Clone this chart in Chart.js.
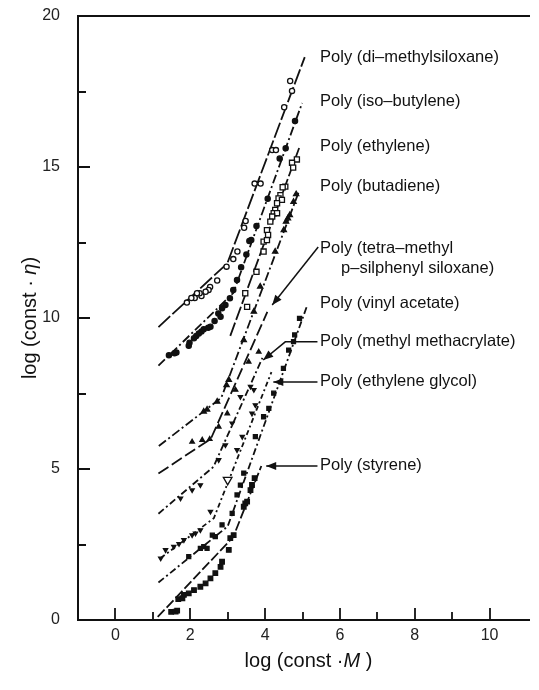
<!DOCTYPE html>
<html>
<head>
<meta charset="utf-8">
<script src="https://cdn.jsdelivr.net/npm/chart.js@4/dist/chart.umd.min.js"></script>
<style>
html, body { margin: 0; padding: 0; background: #fff; }
#wrap { width: 539px; height: 690px; }
</style>
</head>
<body>
<div id="wrap"><canvas id="myChart"></canvas></div>
<script>
var xTicks = [0, 2, 4, 6, 8, 10];
var yTicks = [0, 5, 10, 15, 20];

// fitted lines: [log M, log eta] vertices
var pdmsLine = [[1.15, 9.70], [2.99, 11.81], [5.06, 18.64]];
var pibLine = [[1.15, 8.42], [3.15, 10.83], [4.99, 17.12]];
var peLine = [[3.07, 9.41], [4.91, 15.63]];
var pbLine = [[1.16, 5.76], [2.83, 7.36], [4.92, 14.24]];
var ptmpsLine = [[1.15, 4.85], [2.55, 6.00], [4.06, 10.20]];
var pmmaLine = [[1.15, 3.52], [2.62, 5.07], [3.93, 8.68]];
var pegLine = [[1.21, 2.05], [2.63, 3.37], [4.17, 8.21]];
var pvacLine = [[1.15, 1.24], [3.00, 3.10], [5.13, 10.43]];
var psLine = [[1.13, 0.10], [3.15, 2.75], [3.90, 5.10]];

// measured points
var pdmsPts = [[4.67,17.85],[4.72,17.52],[4.51,16.98],[4.19,15.56],[4.29,15.56],[3.72,14.45],[3.88,14.45],
  [3.48,13.21],[3.44,12.99],[3.26,12.20],[3.15,11.95],[2.97,11.70],[2.72,11.24],[2.53,11.03],[2.49,10.93],
  [2.41,10.87],[2.30,10.73],[2.25,10.82],[2.18,10.82],[2.12,10.66],[2.03,10.66],[1.91,10.51]];
var pibPts = [[4.80,16.52],[4.55,15.62],[4.39,15.28],[4.07,13.95],[3.77,13.05],[3.63,12.58],[3.58,12.55],
  [3.50,12.10],[3.36,11.68],[3.25,11.26],[3.15,10.93],[3.06,10.65],[2.94,10.43],[2.85,10.32],[2.81,10.04],
  [2.75,10.15],[2.65,9.90],[2.54,9.71],[2.48,9.68],[2.36,9.63],[2.30,9.55],[2.23,9.49],[2.16,9.40],
  [2.10,9.33],[1.98,9.18],[1.96,9.08],[1.63,8.86],[1.58,8.83],[1.43,8.77]];
var pePts = [[4.85,15.25],[4.72,15.14],[4.75,14.98],[4.54,14.35],[4.47,14.33],[4.41,14.07],[4.36,13.96],
  [4.45,13.91],[4.32,13.80],[4.27,13.58],[4.23,13.47],[4.32,13.47],[4.19,13.36],[4.14,13.19],[4.05,12.91],
  [4.08,12.75],[3.96,12.53],[4.05,12.58],[3.96,12.20],[3.77,11.53],[3.47,10.82],[3.52,10.37]];
var pbPts = [[4.83,14.10],[4.76,13.85],[4.66,13.41],[4.61,13.30],[4.56,13.19],[4.50,12.91],[4.27,12.20],
  [3.87,11.04],[3.70,10.21],[3.43,9.27],[3.03,7.95],[2.97,7.78],[2.72,7.23],[2.45,6.97],[2.36,6.90]];
var ptmpsPts = [[2.05,5.90],[2.32,5.96],[2.52,5.99],[2.76,6.40],[2.99,6.84],[3.21,7.62],[3.56,8.55],[3.83,8.88]];
var pmmaPts = [[1.74,4.03],[2.05,4.30],[2.27,4.47],[2.76,5.30],[2.94,5.79],[3.12,6.51],[3.34,7.39],[3.61,7.73],[3.70,7.62]];
var pegPts = [[1.21,2.04],[1.34,2.32],[1.56,2.43],[1.70,2.52],[1.83,2.65],[2.05,2.81],[2.14,2.87],[2.27,2.98],
  [2.54,3.59],[3.25,5.63],[3.39,6.07],[3.65,6.84],[3.74,7.12]];
var pegOpenPts = [[3.00,4.64]];
var pvacPts = [[1.96,2.10],[2.27,2.37],[2.36,2.43],[2.45,2.37],[2.59,2.81],[2.67,2.76],[2.85,3.15],[3.12,3.53],
  [3.25,4.14],[3.34,4.47],[3.43,4.86],[3.74,6.07],[3.96,6.73],[4.10,7.01],[4.23,7.51],[4.49,8.33],[4.63,8.94],
  [4.76,9.22],[4.79,9.44],[4.92,9.99]];
var psPts = [[1.49,0.27],[1.61,0.28],[1.65,0.31],[1.68,0.69],[1.79,0.72],[1.83,0.83],[1.96,0.88],[2.10,0.99],
  [2.27,1.10],[2.41,1.21],[2.54,1.38],[2.67,1.55],[2.81,1.76],[2.85,1.93],[3.03,2.32],[3.07,2.71],[3.16,2.81],
  [3.43,3.75],[3.47,3.86],[3.52,3.92],[3.61,4.30],[3.65,4.47],[3.72,4.70]];

// labels on the right
var labelText = ["Poly (di\u2013methylsiloxane)", "Poly (iso\u2013butylene)", "Poly (ethylene)", "Poly (butadiene)",
  "Poly (tetra\u2013methyl", "p\u2013silphenyl siloxane)", "Poly (vinyl acetate)", "Poly (methyl methacrylate)",
  "Poly (ethylene glycol)", "Poly (styrene)"];
var labelX = [5.47, 5.47, 5.47, 5.47, 5.47, 6.03, 5.47, 5.47, 5.47, 5.47];
var labelY = [18.63, 17.16, 15.67, 14.35, 12.31, 11.65, 10.49, 9.22, 7.91, 5.13];
var arrowPaths = [
  [[5.42, 12.35], [4.19, 10.43]],
  [[5.40, 9.21], [4.54, 9.21], [3.95, 8.61]],
  [[5.40, 7.88], [4.22, 7.88]],
  [[5.40, 5.10], [4.03, 5.10]]
];

var ink = '#111';

function pts(list) {
  return list.map(function(p) { return {x: p[0], y: p[1]}; });
}

function lineSet(list, dash) {
  return { data: pts(list), showLine: true, pointRadius: 0, borderColor: ink, borderWidth: 1.8,
    borderDash: dash, fill: false, tension: 0, order: 2 };
}

function markSet(list, style, radius, filled, rot) {
  return { data: pts(list), showLine: false, pointStyle: style, pointRadius: radius,
    pointRotation: rot || 0, pointBorderColor: ink, pointBorderWidth: 1.3,
    pointBackgroundColor: filled ? ink : '#fff', order: 1 };
}

var FONT = "'Liberation Sans', Arial, sans-serif";

function drawMixed(ctx, parts, size) {
  var w = 0;
  parts.forEach(function(p) {
    ctx.font = (p[1] ? 'italic ' : '') + size + 'px ' + FONT;
    w += ctx.measureText(p[0]).width;
  });
  var x = -w / 2;
  parts.forEach(function(p) {
    ctx.font = (p[1] ? 'italic ' : '') + size + 'px ' + FONT;
    ctx.fillText(p[0], x, 0);
    x += ctx.measureText(p[0]).width;
  });
}

var frame = {
  id: 'frame',
  afterDraw: function(chart) {
    var ctx = chart.ctx, a = chart.chartArea;
    var xs = chart.scales.x, ys = chart.scales.y;
    ctx.save();
    ctx.strokeStyle = ink;
    ctx.fillStyle = ink;
    ctx.lineWidth = 2;
    ctx.beginPath();
    ctx.moveTo(a.right + 3, a.top); ctx.lineTo(a.left, a.top);
    ctx.lineTo(a.left, a.bottom); ctx.lineTo(a.right + 3, a.bottom);
    ctx.stroke();

    // inward ticks
    ctx.lineWidth = 1.8;
    ctx.beginPath();
    for (var v = 0; v <= 10; v++) {
      var px = Math.round(xs.getPixelForValue(v));
      ctx.moveTo(px, a.bottom);
      ctx.lineTo(px, a.bottom - (v % 2 ? 8 : 12));
    }
    for (var k = 1; k < 8; k++) {
      var py = Math.round(ys.getPixelForValue(k * 2.5));
      ctx.moveTo(a.left, py);
      ctx.lineTo(a.left + (k % 2 ? 8 : 12), py);
    }
    ctx.stroke();

    // labels and arrows
    ctx.font = '16.5px ' + FONT;
    ctx.textBaseline = 'middle';
    ctx.textAlign = 'left';
    labelText.forEach(function(t, i) {
      ctx.fillText(t, xs.getPixelForValue(labelX[i]), ys.getPixelForValue(labelY[i]));
    });
    ctx.lineWidth = 1.5;
    arrowPaths.forEach(function(path) {
      var p = path.map(function(q) { return [xs.getPixelForValue(q[0]), ys.getPixelForValue(q[1])]; });
      ctx.beginPath();
      ctx.moveTo(p[0][0], p[0][1]);
      for (var i = 1; i < p.length; i++) ctx.lineTo(p[i][0], p[i][1]);
      ctx.stroke();
      var e = p[p.length - 1], s = p[p.length - 2];
      var ang = Math.atan2(e[1] - s[1], e[0] - s[0]);
      ctx.save();
      ctx.translate(e[0], e[1]);
      ctx.rotate(ang);
      ctx.beginPath();
      ctx.moveTo(0, 0); ctx.lineTo(-10, -4); ctx.lineTo(-10, 4); ctx.closePath();
      ctx.fill();
      ctx.restore();
    });

    // axis titles
    ctx.textAlign = 'left';
    ctx.save();
    ctx.translate((a.left + a.right) / 2 + 6, a.bottom + 41);
    drawMixed(ctx, [['log (const \u00b7', false], ['M', true], [' )', false]], 20);
    ctx.restore();
    ctx.save();
    ctx.translate(30, (a.top + a.bottom) / 2);
    ctx.rotate(-Math.PI / 2);
    drawMixed(ctx, [['log (const \u00b7 ', false], ['\u03b7', true], [')', false]], 20);
    ctx.restore();
    ctx.restore();
  }
};

var ctx = document.getElementById('myChart').getContext('2d');
var myChart = new Chart(ctx, {
  type: 'scatter',
  data: {
    datasets: [
      lineSet(pdmsLine, [16, 3]),
      lineSet(pibLine, [9, 3, 2, 3]),
      lineSet(peLine, [14, 3]),
      lineSet(pbLine, [9, 3, 2, 3]),
      lineSet(ptmpsLine, [12, 4]),
      lineSet(pmmaLine, [7, 3, 2, 3]),
      lineSet(pegLine, [5, 3, 2, 3]),
      lineSet(pvacLine, [7, 3, 2, 3]),
      lineSet(psLine, [10, 3]),
      markSet(pdmsPts, 'circle', 2.6, false),
      markSet(pibPts, 'circle', 2.6, true),
      markSet(pePts, 'rect', 3.6, false),
      markSet(pbPts, 'triangle', 3.0, true),
      markSet(ptmpsPts, 'triangle', 2.6, true),
      markSet(pmmaPts, 'triangle', 2.4, true, 180),
      markSet(pegPts, 'triangle', 2.4, true, 180),
      markSet(pegOpenPts, 'triangle', 5, false, 180),
      markSet(pvacPts, 'rect', 2.8, true),
      markSet(psPts, 'rect', 3.2, true)
    ]
  },
  options: {
    responsive: true,
    maintainAspectRatio: false,
    animation: false,
    layout: { padding: { top: 16, right: 12, left: 0, bottom: 0 } },
    plugins: { legend: { display: false }, tooltip: { enabled: false } },
    scales: {
      x: {
        type: 'linear', min: -1, max: 11,
        grid: { display: false, drawTicks: false },
        border: { display: false },
        afterFit: function(scale) {
          scale.height = 70;
          scale.paddingLeft = 0; scale.paddingRight = 0;
        },
        afterBuildTicks: function(scale) { scale.ticks = xTicks.map(function(v) { return {value: v}; }); },
        ticks: { padding: 6, color: '#222', font: { family: FONT, size: 16 } }
      },
      y: {
        type: 'linear', min: 0, max: 20,
        grid: { display: false, drawTicks: false },
        border: { display: false },
        afterFit: function(scale) {
          scale.width = 78;
          scale.paddingTop = 0; scale.paddingBottom = 0;
        },
        afterBuildTicks: function(scale) { scale.ticks = yTicks.map(function(v) { return {value: v}; }); },
        ticks: { padding: 18, color: '#222', font: { family: FONT, size: 16 } }
      }
    }
  },
  plugins: [frame]
});
</script>
</body>
</html>
